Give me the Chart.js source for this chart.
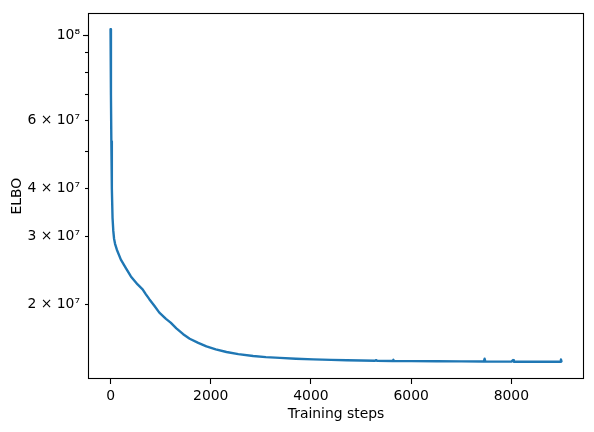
<!DOCTYPE html>
<html>
<head>
<meta charset="utf-8">
<script src="https://cdn.jsdelivr.net/npm/chart.js@4/dist/chart.umd.min.js"></script>
<style>
  html, body { margin: 0; padding: 0; background: #ffffff; }
  #c { display: block; }
</style>
</head>
<body>
<canvas id="c" width="594" height="432"></canvas>
<script>
// ---- data ----
const steps = [
  0, 8, 16, 26, 40, 55, 70, 90, 126, 206, 306, 406, 540, 640, 706, 774, 874, 974, 1106, 1200,
  1314, 1450, 1580, 1750, 1914, 2100, 2314, 2550, 2846, 3100, 3380, 3700, 4046, 4400, 4714,
  5000, 5280, 5300, 5320, 5630, 5645, 5660, 6000, 6500, 7000, 7450, 7466, 7480, 8000, 8033,
  8050, 8500, 8980, 8990, 9000
];
const elbo = [
  1.038e8, 7.0e7, 5.3e7, 4.0e7, 3.35e7, 3.1e7, 2.96e7, 2.87e7, 2.77e7, 2.61e7, 2.48e7, 2.36e7, 2.25e7, 2.185e7, 2.12e7, 2.06e7, 1.98e7, 1.90e7, 1.83e7, 1.79e7,
  1.73e7, 1.67e7, 1.625e7, 1.585e7, 1.552e7, 1.525e7, 1.501e7, 1.482e7, 1.466e7, 1.456e7, 1.449e7, 1.442e7, 1.436e7, 1.432e7, 1.429e7,
  1.427e7, 1.425e7, 1.430e7, 1.424e7, 1.422e7, 1.432e7, 1.422e7, 1.421e7, 1.420e7, 1.419e7, 1.418e7, 1.442e7, 1.418e7, 1.417e7, 1.430e7,
  1.417e7, 1.416e7, 1.416e7, 1.435e7, 1.420e7
];
const xTickValues = [0, 2000, 4000, 6000, 8000];
const yTickValues = [2e7, 3e7, 4e7, 5e7, 6e7, 7e7, 8e7, 9e7, 1e8];
const yTickLabels = ['2 \u00d7 10\u2077', '3 \u00d7 10\u2077', '4 \u00d7 10\u2077', '', '6 \u00d7 10\u2077', '', '', '', '10\u2078'];
const xTitle = 'Training steps';
const yTitle = 'ELBO';

const FONT = { family: 'DejaVu Sans', size: 13.9 };
const points = steps.map((s, i) => ({ x: s, y: elbo[i] }));

const framePlugin = {
  id: 'frame',
  afterDraw(chart) {
    const { ctx, chartArea: a } = chart;
    ctx.save();
    ctx.strokeStyle = '#000';
    ctx.lineWidth = 1.1;
    ctx.strokeRect(Math.round(a.left) + 0.5, Math.round(a.top) + 0.5,
                   Math.round(a.right - a.left) - 1, Math.round(a.bottom - a.top) - 1);
    // longer major tick at 10^8
    const y = Math.round(chart.scales.y.getPixelForValue(1e8)) + 0.5;
    ctx.beginPath();
    ctx.moveTo(a.left - 5, y);
    ctx.lineTo(a.left, y);
    ctx.stroke();
    ctx.restore();
  }
};

new Chart(document.getElementById('c'), {
  type: 'line',
  data: {
    datasets: [{
      data: points,
      borderColor: '#1f77b4',
      backgroundColor: '#1f77b4',
      borderWidth: 2.4,
      borderJoinStyle: 'round',
      borderCapStyle: 'round',
      pointRadius: 0,
      tension: 0,
      fill: false
    }]
  },
  options: {
    responsive: false,
    animation: false,
    devicePixelRatio: 1,
    layout: { padding: { left: 0, right: 10, top: 9, bottom: 0 } },
    plugins: { legend: { display: false }, tooltip: { enabled: false } },
    scales: {
      x: {
        type: 'linear',
        min: -450,
        max: 9450,
        afterBuildTicks(scale) { scale.ticks = xTickValues.map(v => ({ value: v })); },
        afterFit(scale) { scale.height = 53; },
        grid: { display: true, drawOnChartArea: false, drawTicks: true, tickLength: 5, tickColor: '#000', tickWidth: 1.1 },
        border: { display: false },
        ticks: { color: '#000', font: FONT, padding: 4, maxRotation: 0, autoSkip: false, callback: v => String(v) },
        title: { display: true, text: xTitle, color: '#000', font: FONT, padding: { top: 0, bottom: 9 } }
      },
      y: {
        type: 'logarithmic',
        min: 1.277e7,
        max: 1.141e8,
        afterBuildTicks(scale) { scale.ticks = yTickValues.map(v => ({ value: v })); },
        afterFit(scale) { scale.width = 88; },
        grid: { display: true, drawOnChartArea: false, drawTicks: true, tickLength: 3, tickColor: '#000', tickWidth: 1.1 },
        border: { display: false },
        ticks: {
          color: '#000', font: FONT, padding: 5, autoSkip: false,
          callback: (v) => { const i = yTickValues.indexOf(v); return i >= 0 ? yTickLabels[i] : ''; }
        },
        title: { display: true, text: yTitle, color: '#000', font: FONT, padding: { top: 9, bottom: 0 } }
      }
    }
  },
  plugins: [framePlugin]
});
</script>
</body>
</html>
